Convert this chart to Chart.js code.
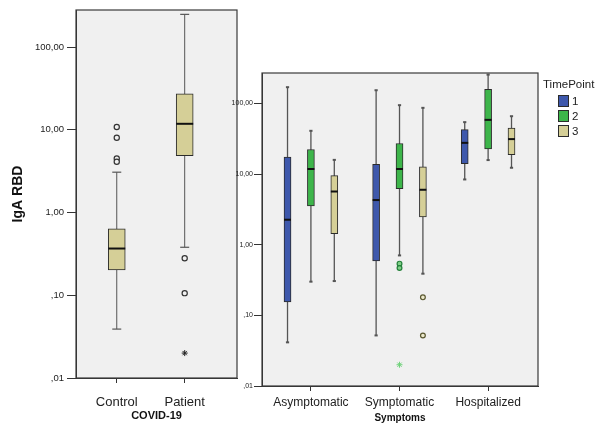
<!DOCTYPE html>
<html>
<head>
<meta charset="utf-8">
<script src="https://cdn.jsdelivr.net/npm/chart.js@4.4.1/dist/chart.umd.min.js"></script>
<style>
  body { margin: 0; background: #fff; font-family: Arial, "Liberation Sans", sans-serif; }
  #wrap { position: relative; width: 600px; height: 425px; overflow: hidden; }
  #covidBox { position: absolute; left: 0; top: 0; }
  #symptomBox { position: absolute; left: 220px; top: 0; }
  #timeLegend { position: absolute; left: 543px; top: 77px; color: #222; }
  #timeLegend .ttl { font-size: 11.5px; line-height: 14px; margin-bottom: 2px; }
  #timeLegend .row { display: flex; align-items: center; height: 15px; margin-left: 15px; font-size: 11.5px; }
  #timeLegend .sw { width: 9px; height: 10px; border: 1px solid #2b2b2b; margin-right: 3px; }
</style>
</head>
<body>
<div id="wrap">
  <canvas id="covidBox" width="240" height="425"></canvas>
  <canvas id="symptomBox" width="380" height="425"></canvas>
  <div id="timeLegend"></div>
</div>
<script>
// shared log axis
const yTickValues = [0.01, 0.1, 1, 10, 100];
const yTickLabels = [',01', ',10', '1,00', '10,00', '100,00'];

// IgA RBD by COVID-19 status
const covidGroups = ['Control', 'Patient'];
const covidLow = [0.039, 0.38];
const covidQ1 = [0.203, 4.85];
const covidMedian = [0.367, 11.8];
const covidQ3 = [0.635, 27.2];
const covidHigh = [3.07, 248];
const covidOutliers = [[10.8, 8.0, 4.5, 4.1], [0.28, 0.106]];
const covidExtremes = [[], [0.02]];

// IgA RBD by symptoms, one row per time point
const symptomGroups = ['Asymptomatic', 'Symptomatic', 'Hospitalized'];
const timePoints = ['1', '2', '3'];
const symLow = [[0.0415, 0.052, 8.4], [0.30, 0.706, 15.8], [0.306, 0.389, 12.3]];
const symQ1 = [[0.155, 0.59, 14.0], [3.53, 6.2, 22.8], [1.43, 2.47, 18.9]];
const symMedian = [[2.26, 4.29, 27.7], [11.8, 11.8, 58.6], [5.67, 6.0, 31.3]];
const symQ3 = [[17.4, 13.8, 42.7], [22.3, 27.1, 159], [9.5, 12.7, 44.7]];
const symHigh = [[170, 154, 54.4], [41, 94.6, 256], [15.9, 86.7, 66]];
const symOutliers = [[[], [], []], [[], [0.54, 0.468], []], [[], [0.18, 0.052], []]];
const symExtremes = [[[], [], []], [[], [0.02], []], [[], [], []]];

const tpFill = ['#3e58ac', '#3db54a', '#d5cf97'];
const tpDotFill = ['#3e58ac', '#7fd087', '#ece9cc'];
const tpDotLine = ['#1f2f66', '#24803a', '#5a5830'];
const tpStar = ['#333', '#6fd27a', '#5a5830'];
const tpShift = [-0.264, 0, 0.264];

// grey plot background and frame around the chart area
const plotFrame = {
  id: 'plotFrame',
  beforeDraw(chart) {
    const { ctx, chartArea: a } = chart;
    ctx.save();
    ctx.fillStyle = '#f0f0f0';
    ctx.fillRect(a.left, a.top, a.width, a.height);
    ctx.restore();
  },
  afterDraw(chart) {
    const { ctx, chartArea: a } = chart;
    ctx.save();
    ctx.strokeStyle = '#3a3a3a';
    ctx.lineWidth = 1.2;
    ctx.strokeRect(a.left, a.top, a.width, a.height);
    ctx.restore();
  }
};

// whiskers, caps, box, median, outliers (o) and extremes (*) for one series
function boxplotDatasets(xs, low, q1, med, q3, high, outliers, extremes, look) {
  const whisker = [];
  const caps = [];
  const dots = [];
  const stars = [];
  xs.forEach((x, i) => {
    whisker.push({ x: x, y: low[i] }, { x: x, y: high[i] }, { x: x, y: null });
    caps.push({ x: x, y: low[i] }, { x: x, y: high[i] });
    outliers[i].forEach(v => dots.push({ x: x, y: v }));
    extremes[i].forEach(v => stars.push({ x: x, y: v }));
  });
  return [
    {
      type: 'line', data: whisker, borderColor: look.whisker, borderWidth: look.whiskerWidth,
      pointRadius: 0, spanGaps: false, order: 5
    },
    {
      type: 'scatter', data: caps, pointStyle: 'line', pointRadius: look.capRadius,
      pointBorderColor: look.whisker, pointBorderWidth: look.capWidth, order: 4
    },
    {
      type: 'bar', label: look.label, data: xs.map((x, i) => ({ x: x, y: [q1[i], q3[i]] })),
      backgroundColor: look.fill, borderColor: '#2b2b2b', borderWidth: 1, borderSkipped: false,
      barThickness: look.boxWidth, grouped: false, order: 3
    },
    {
      type: 'scatter', data: xs.map((x, i) => ({ x: x, y: med[i] })), pointStyle: 'line',
      pointRadius: look.boxWidth / 2, pointBorderColor: '#111', pointBorderWidth: 2, order: 2
    },
    {
      type: 'scatter', data: dots, pointStyle: 'circle', pointRadius: look.dotRadius,
      pointBackgroundColor: look.dotFill, pointBorderColor: look.dotLine, pointBorderWidth: 1.2, order: 1
    },
    {
      type: 'scatter', data: stars, pointStyle: 'star', pointRadius: 3,
      pointBorderColor: look.star, pointBorderWidth: 1, order: 1
    }
  ];
}

function logAxis(width, fontSize, tickLen, pad, max, title) {
  return {
    type: 'logarithmic', min: 0.01, max: max,
    afterBuildTicks: s => { s.ticks = yTickValues.map(v => ({ value: v })); },
    afterFit: s => { s.width = width; s.paddingTop = 0; s.paddingBottom = 0; },
    grid: { drawOnChartArea: false, drawTicks: true, tickLength: tickLen, tickColor: '#333' },
    border: { display: true, color: '#333' },
    ticks: {
      autoSkip: false, padding: pad, color: '#222',
      font: { family: 'Arial, "Liberation Sans"', size: fontSize },
      callback: (v, i) => yTickLabels[i]
    },
    title: title
  };
}

function groupAxis(labels, min, max, height, fontSize, pad, title) {
  return {
    type: 'linear', min: min, max: max, offset: false,
    afterBuildTicks: s => { s.ticks = labels.map((_, i) => ({ value: i })); },
    // keep the plot edges fixed, labels may hang over them
    afterFit: s => { s.height = height; s.paddingLeft = 0; s.paddingRight = 0; },
    grid: { offset: false, drawOnChartArea: false, drawTicks: true, tickLength: 5, tickColor: '#333' },
    border: { display: true, color: '#333' },
    ticks: {
      autoSkip: false, maxRotation: 0, padding: pad, color: '#222',
      font: { family: 'Arial, "Liberation Sans"', size: fontSize },
      callback: (v, i) => labels[i]
    },
    title: title
  };
}

const commonOpts = {
  responsive: false,
  animation: false,
  events: [],
  plugins: { legend: { display: false }, tooltip: { enabled: false } }
};

// left panel
new Chart(document.getElementById('covidBox'), {
  type: 'bar',
  data: {
    datasets: boxplotDatasets(covidGroups.map((_, i) => i), covidLow, covidQ1, covidMedian, covidQ3,
      covidHigh, covidOutliers, covidExtremes, {
        label: 'COVID-19', fill: '#d5cf97', boxWidth: 17, whisker: '#555', whiskerWidth: 1,
        capRadius: 4.5, capWidth: 1.2, dotRadius: 2.6, dotFill: '#f0f0f0', dotLine: '#333', star: '#222'
      })
  },
  options: Object.assign({}, commonOpts, {
    layout: { autoPadding: false, padding: { top: 10, right: 3, left: 0, bottom: 0 } },
    scales: {
      x: groupAxis(covidGroups, -0.6, 1.77, 47, 13, 12, {
        display: true, text: 'COVID-19', color: '#111',
        font: { family: 'Arial, "Liberation Sans"', size: 11, weight: 'bold' },
        padding: { top: 0, bottom: 2 }
      }),
      y: logAxis(76, 9.5, 9, 3, 280, {
        display: true, text: 'IgA RBD', color: '#111',
        font: { family: 'Arial, "Liberation Sans"', size: 14, weight: 'bold' },
        padding: { top: 10, bottom: 0 }
      })
    }
  }),
  plugins: [plotFrame]
});

// right panel, boxes grouped by time point
let symptomSets = [];
timePoints.forEach((tp, t) => {
  symptomSets = symptomSets.concat(boxplotDatasets(symptomGroups.map((_, g) => g + tpShift[t]),
    symLow[t], symQ1[t], symMedian[t], symQ3[t], symHigh[t], symOutliers[t], symExtremes[t], {
      label: tp, fill: tpFill[t], boxWidth: 7, whisker: '#555', whiskerWidth: 1.3,
      capRadius: 1.6, capWidth: 2, dotRadius: 2.4, dotFill: tpDotFill[t], dotLine: tpDotLine[t], star: tpStar[t]
    }));
});

const symptomChart = new Chart(document.getElementById('symptomBox'), {
  type: 'bar',
  data: { datasets: symptomSets },
  options: Object.assign({}, commonOpts, {
    layout: { autoPadding: false, padding: { top: 73, right: 62, left: 0, bottom: 0 } },
    scales: {
      x: groupAxis(symptomGroups, -0.552, 2.563, 39, 12, 4, {
        display: true, text: 'Symptoms', color: '#111',
        font: { family: 'Arial, "Liberation Sans"', size: 10, weight: 'bold' },
        padding: { top: 0, bottom: 1 }
      }),
      y: logAxis(42, 7, 8, 1, 270, { display: false })
    }
  }),
  plugins: [plotFrame]
});

// legend built from the box datasets
const legendBox = document.getElementById('timeLegend');
legendBox.innerHTML = '<div class="ttl">TimePoint</div>';
symptomChart.data.datasets.filter(d => d.type === 'bar').forEach(d => {
  const row = document.createElement('div');
  row.className = 'row';
  row.innerHTML = '<span class="sw" style="background:' + d.backgroundColor + '"></span>' + d.label;
  legendBox.appendChild(row);
});
</script>
</body>
</html>
